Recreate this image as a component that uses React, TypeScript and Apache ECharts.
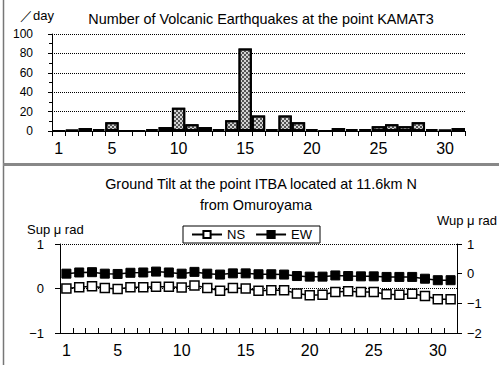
import React, { useEffect, useRef } from "react";
import * as echarts from "echarts";

const days = ["1","2","3","4","5","6","7","8","9","10","11","12","13","14","15","16","17","18","19","20","21","22","23","24","25","26","27","28","29","30","31"];
const labelDays = ["1","5","10","15","20","25","30"];
const quakeCounts = [0,1,3,2,9,0,0,2,4,24,7,4,2,11,85,16,2,16,9,2,0,3,2,2,5,7,5,9,2,1,3];
const nsTilt = [0.0,0.03,0.05,0.01,-0.01,0.03,0.03,0.04,0.04,0.02,0.07,0.01,-0.05,0.01,0.0,-0.05,-0.04,-0.04,-0.11,-0.15,-0.14,-0.08,-0.06,-0.08,-0.08,-0.13,-0.14,-0.12,-0.17,-0.24,-0.24];
const ewTilt = [0.0,0.04,0.05,0.0,-0.01,0.03,0.04,0.07,0.04,0.0,0.06,0.0,-0.03,0.01,0.01,-0.02,-0.02,-0.03,-0.08,-0.1,-0.1,-0.06,-0.08,-0.09,-0.09,-0.11,-0.11,-0.11,-0.17,-0.22,-0.22];

const SANS = '"Liberation Sans", Arial, sans-serif';
const NARROW = '"Liberation Sans Narrow", "Liberation Sans", sans-serif';
const minus = (v: number) => String(v).replace("-", "\u2212");

export default function App() {
  const ref = useRef<HTMLDivElement>(null);
  useEffect(() => {
    if (!ref.current) return;
    const chart = echarts.init(ref.current, undefined, { renderer: "svg" });
    const catAxisLabel = {
      interval: (_i: number, v: string) => labelDays.includes(v),
      fontSize: 16,
      fontFamily: NARROW,
      color: "#000",
    };
    chart.setOption({
      animation: false,
      backgroundColor: "#fff",
      textStyle: { fontFamily: SANS },
      grid: [
        { left: 52, right: 34, top: 34, bottom: 234 },
        { left: 60, right: 42, top: 244, bottom: 32 },
      ],
      xAxis: [
        {
          type: "category", gridIndex: 0, data: days, boundaryGap: true,
          axisLine: { lineStyle: { color: "#000", width: 1 } },
          axisTick: { show: true, interval: 0, length: 5, lineStyle: { color: "#000" } },
          axisLabel: { ...catAxisLabel, margin: 9 },
        },
        {
          type: "category", gridIndex: 1, data: days, boundaryGap: true, position: "bottom",
          axisLine: { onZero: false, lineStyle: { color: "#000", width: 1 } },
          axisTick: { show: true, interval: 0, inside: true, length: 5, lineStyle: { color: "#000" } },
          axisLabel: { ...catAxisLabel, margin: 9 },
        },
      ],
      yAxis: [
        {
          type: "value", gridIndex: 0, min: 0, max: 100, interval: 20,
          axisLine: { show: true, lineStyle: { color: "#000" } },
          axisTick: { show: true, length: 4, lineStyle: { color: "#000" } },
          minorTick: { show: true, splitNumber: 2, length: 3, lineStyle: { color: "#000" } },
          splitLine: { show: true, lineStyle: { color: "#000", type: [1, 1], width: 1 } },
          axisLabel: { fontSize: 12, color: "#000", margin: 19 },
        },
        {
          type: "value", gridIndex: 1, min: -1, max: 1, interval: 1, position: "left",
          axisLine: { show: true, onZero: false, lineStyle: { color: "#000" } },
          axisTick: { show: true, length: 5, lineStyle: { color: "#000" } },
          splitLine: { show: true, lineStyle: { color: "#000", type: [1, 1], width: 1 } },
          axisLabel: { fontSize: 13, color: "#000", margin: 16, formatter: minus },
        },
        {
          type: "value", gridIndex: 1, min: -2, max: 1, interval: 1, position: "right",
          axisLine: { show: true, onZero: false, lineStyle: { color: "#000" } },
          axisTick: { show: true, length: 5, lineStyle: { color: "#000" } },
          splitLine: { show: false },
          axisLabel: { fontSize: 13, color: "#000", margin: 10, formatter: minus },
        },
      ],
      legend: {
        data: ["NS", "EW"],
        left: 183, top: 226,
        backgroundColor: "#fff", borderColor: "#000", borderWidth: 1, borderRadius: 0,
        padding: [2, 8], itemGap: 10, itemWidth: 30, itemHeight: 9,
        textStyle: { fontSize: 13, color: "#000", fontFamily: SANS },
      },
      series: [
        {
          type: "bar", xAxisIndex: 0, yAxisIndex: 0, data: quakeCounts,
          barCategoryGap: "0%",
          itemStyle: {
            color: "#d4d4d4", borderColor: "#000", borderWidth: 2,
            decal: { symbol: "rect", symbolSize: 1, color: "#555", dashArrayX: [[2, 2], [0, 2, 2, 0]], dashArrayY: [2, 0] },
          },
        },
        {
          name: "NS", type: "line", xAxisIndex: 1, yAxisIndex: 1, data: nsTilt,
          symbol: "rect", symbolSize: 9, showAllSymbol: true,
          lineStyle: { color: "#000", width: 1.5 },
          itemStyle: { color: "#fff", borderColor: "#000", borderWidth: 1.5 },
        },
        {
          name: "EW", type: "line", xAxisIndex: 1, yAxisIndex: 2, data: ewTilt,
          symbol: "rect", symbolSize: 9, showAllSymbol: true,
          lineStyle: { color: "#000", width: 1.5 },
          itemStyle: { color: "#000", borderColor: "#000", borderWidth: 1 },
        },
      ],
      graphic: [
        { type: "line", shape: { x1: 3.5, y1: 0, x2: 3.5, y2: 365 }, style: { stroke: "#777", lineWidth: 1.5 } },
        { type: "rect", shape: { x: 3, y: 163, width: 496, height: 3 }, style: { fill: "#888" } },
        { type: "text", x: 20, y: 15, style: { text: "／day", font: `13px ${SANS}`, fill: "#000", textVerticalAlign: "middle" } },
        { type: "text", x: 261, y: 19, style: { text: "Number of Volcanic Earthquakes at the point KAMAT3", font: `14.4px ${SANS}`, fill: "#000", textAlign: "center", textVerticalAlign: "middle" } },
        { type: "text", x: 261, y: 184, style: { text: "Ground Tilt at the point ITBA located at 11.6km N", font: `14.4px ${SANS}`, fill: "#000", textAlign: "center", textVerticalAlign: "middle" } },
        { type: "text", x: 256, y: 205, style: { text: "from Omuroyama", font: `14.4px ${SANS}`, fill: "#000", textAlign: "center", textVerticalAlign: "middle" } },
        { type: "text", x: 27, y: 229, style: { text: "Sup μ rad", font: `13px ${SANS}`, fill: "#000", textVerticalAlign: "middle" } },
        { type: "text", x: 437, y: 220, style: { text: "Wup μ rad", font: `13px ${SANS}`, fill: "#000", textVerticalAlign: "middle" } },
      ],
    });
    return () => chart.dispose();
  }, []);
  return <div ref={ref} style={{ width: 499, height: 365, position: "absolute", left: 0, top: 0 }} />;
}
